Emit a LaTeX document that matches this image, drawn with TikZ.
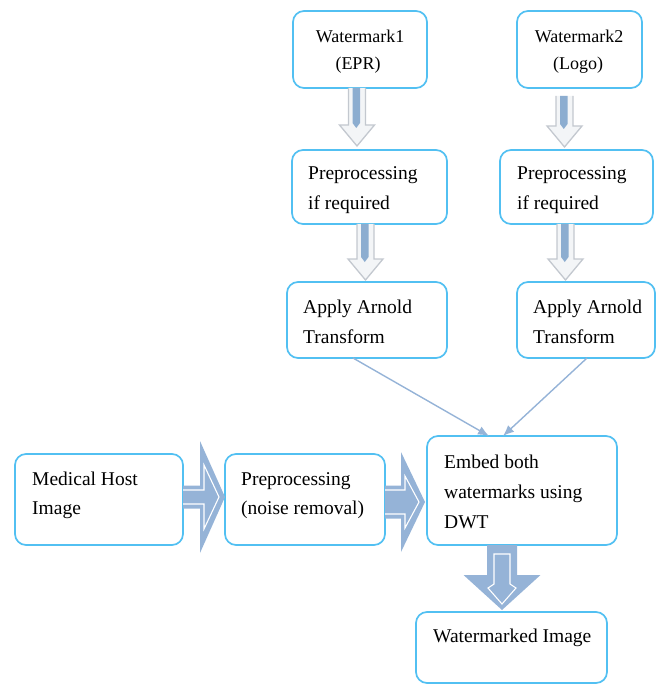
\documentclass[tikz,border=0pt]{standalone}
\usepackage{fontspec}
\setmainfont{Liberation Serif}
\usetikzlibrary{arrows.meta,calc}
\definecolor{boxblue}{HTML}{52C0F2}
\definecolor{arrowblue}{HTML}{95B3D7}
\definecolor{stripeblue}{HTML}{8CADD0}
\definecolor{hollowedge}{HTML}{C3C8CF}
\definecolor{hollowfill}{HTML}{F3F5F7}
\tikzset{
  box/.style={draw=boxblue, line width=1.7pt, rounded corners=11pt, fill=white, inner sep=0pt, outer sep=0pt},
  txt/.style={anchor=base west, inner sep=0pt, font=\fontsize{19.5}{24}\selectfont},
  wtxt/.style={anchor=base, inner sep=0pt, font=\fontsize{18}{22}\selectfont},
  hollow/.style={fill=hollowfill, draw=hollowedge, line width=1.3pt, line join=miter},
  stripe/.style={fill=stripeblue, draw=none},
  solidarrow/.style={fill=arrowblue, draw=none},
  innerline/.style={draw=white, line width=1.1pt, line join=miter},
  thinarrow/.style={draw=arrowblue, line width=1.4pt, -{Latex[length=11pt,width=9pt]}}
}
% hollow down arrow: #1 start, #2 tip
\newcommand{\hollowdown}[2]{%
  \path[hollow] let \p1=#1, \p2=#2 in
    (\x1-8.5pt,\y1) -- (\x1-8.5pt,\y2+21pt) -- (\x1-17.5pt,\y2+21pt) -- (\x1,\y2)
      -- (\x1+17.5pt,\y2+21pt) -- (\x1+8.5pt,\y2+21pt) -- (\x1+8.5pt,\y1);
  \path[stripe] let \p1=#1, \p2=#2 in
    (\x1-4.5pt,\y1) -- (\x1-4.5pt,\y2+23pt) -- (\x1-0.75pt,\y2+18pt) -- (\x1+3pt,\y2+23pt)
      -- (\x1+3pt,\y1) -- cycle;
}
% solid right arrow: #1 start, #2 tip, #3 shaft half, #4 head half, #5 head length
\newcommand{\solidright}[5]{%
  \path[solidarrow] let \p1=#1, \p2=#2 in
    (\x1,\y1+#3) -- (\x2-#5,\y1+#3) -- (\x2-#5,\y1+#4) -- (\x2,\y1)
      -- (\x2-#5,\y1-#4) -- (\x2-#5,\y1-#3) -- (\x1,\y1-#3) -- cycle;
  \path[innerline] let \p1=#1, \p2=#2 in
    (\x1,\y1+#3-4.5pt) -- (\x2-#5+4pt,\y1+#3-4.5pt) -- (\x2-#5+4pt,\y1+#4-24pt)
      -- (\x2-6pt,\y1) -- (\x2-#5+4pt,\y1-#4+24pt) -- (\x2-#5+4pt,\y1-#3+4.5pt) -- (\x1,\y1-#3+4.5pt);
}
\begin{document}
\begin{tikzpicture}[x=1pt,y=-1pt]
\useasboundingbox (0,0) rectangle (661,684);

% boxes
\node[box, minimum width=134pt, minimum height=77pt] (w1) at (360,49.5) {};
\node[box, minimum width=125pt, minimum height=77pt] (w2) at (579.5,49.5) {};
\node[box, minimum width=155pt, minimum height=74pt] (p1) at (369.5,187) {};
\node[box, minimum width=153pt, minimum height=74pt] (p2) at (576.5,187) {};
\node[box, minimum width=160pt, minimum height=76pt] (a1) at (367,320) {};
\node[box, minimum width=138pt, minimum height=76pt] (a2) at (586,320) {};
\node[box, minimum width=168pt, minimum height=91pt] (med) at (99,499.5) {};
\node[box, minimum width=160pt, minimum height=91pt] (pre) at (305,499.5) {};
\node[box, minimum width=190pt, minimum height=109pt] (emb) at (522,490.5) {};
\node[box, minimum width=191pt, minimum height=71pt] (out) at (511.5,647.5) {};

% texts
\node[wtxt] (t1) at (360,43) {Watermark1};
\node[wtxt] (t2) at (358,70) {(EPR)};
\node[wtxt] (t3) at (579,43) {Watermark2};
\node[wtxt] (t4) at (578,70) {(Logo)};
\node[txt] (t5) at (308,180) {Preprocessing};
\node[txt] (t6) at (308,210) {if required};
\node[txt] (t7) at (517,180) {Preprocessing};
\node[txt] (t8) at (517,210) {if required};
\node[txt] (t9) at (303,313) {Apply Arnold};
\node[txt] (t10) at (303,343) {Transform};
\node[txt] (t11) at (533,313) {Apply Arnold};
\node[txt] (t12) at (533,343) {Transform};
\node[txt] (t13) at (32,485) {Medical Host};
\node[txt] (t14) at (32,514) {Image};
\node[txt] (t15) at (241,485) {Preprocessing};
\node[txt] (t16) at (241,514) {(noise removal)};
\node[txt] (t17) at (444,468) {Embed both};
\node[txt] (t18) at (444,498) {watermarks using};
\node[txt] (t19) at (444,528) {DWT};
\node[txt] (t20) at (433,642) {Watermarked Image};

% hollow down arrows
\hollowdown{($(w1.south)+(-3,0)$)}{($(p1.north)+(-13,-4)$)}
\hollowdown{($(w2.south)+(-15,8)$)}{($(p2.north)+(-12,-3)$)}
\hollowdown{($(p1.south)+(-4,0)$)}{($(a1.north)+(-1,-2)$)}
\hollowdown{($(p2.south)+(-11,0)$)}{($(a2.north)+(-20,-2)$)}

% thin arrows
\draw[thinarrow] ($(a1.south)+(-14,0)$) -- ($(emb.north)+(-33,0)$);
\draw[thinarrow] ($(a2.south)+(1,0)$) -- ($(emb.north)+(-19,0)$);

% solid block arrows
\solidright{($(med.east)+(0,-2.5)$)}{($(pre.west)+(0,-2.5)$)}{11.5pt}{56pt}{25pt}
\solidright{($(pre.east)+(0,2.5)$)}{($(emb.west)+(-2,-6.5)$)}{16.5pt}{50pt}{24pt}

% solid down arrow
\path[solidarrow] let \p1=($(emb.south)+(-20,0)$), \p2=($(out.north)+(-9.5,-2)$) in
  (\x1-15pt,\y1) -- (\x1-15pt,\y2+35pt) -- (\x1-38.5pt,\y2+35pt) -- (\x1,\y2)
    -- (\x1+38.5pt,\y2+35pt) -- (\x1+15pt,\y2+35pt) -- (\x1+15pt,\y1) -- cycle;
\path[innerline] let \p1=($(emb.south)+(-20,0)$), \p2=($(out.north)+(-9.5,-2)$) in
  (\x1-8pt,\y1-9pt) -- (\x1+8pt,\y1-9pt) -- (\x1+8pt,\y2+26pt) -- (\x1+14pt,\y2+22pt)
    -- (\x1,\y2+6pt) -- (\x1-14pt,\y2+22pt) -- (\x1-8pt,\y2+26pt) -- cycle;
\end{tikzpicture}
\end{document}
